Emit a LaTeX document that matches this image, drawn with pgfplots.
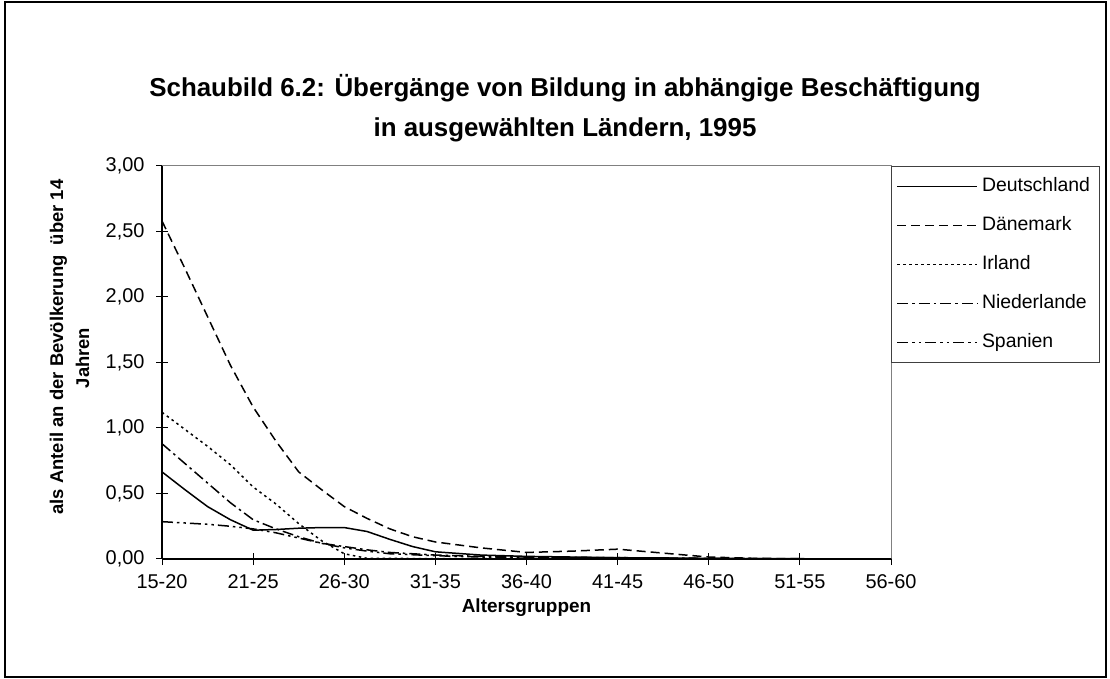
\documentclass[border=0pt]{standalone}
\usepackage{pgfplots}
\pgfplotsset{compat=1.18}
\usepackage{fontspec}
\setmainfont{Liberation Sans}

\pgfplotstableread{
x y
0 0.665
0.25 0.53
0.5 0.40
0.75 0.30
1 0.22
1.25 0.225
1.5 0.235
1.75 0.24
2 0.24
2.25 0.21
2.5 0.15
2.75 0.095
3 0.055
3.5 0.03
4 0.02
4.5 0.015
5 0.01
5.5 0.008
6 0.005
7 0.002
8 0.0
}\deutschland

\pgfplotstableread{
x y
0 2.58
0.25 2.22
0.5 1.85
0.75 1.48
1 1.16
1.25 0.90
1.5 0.665
1.75 0.53
2 0.40
2.25 0.31
2.5 0.23
2.75 0.17
3 0.13
3.5 0.085
4 0.05
4.5 0.06
5 0.075
5.5 0.045
6 0.015
6.5 0.005
7 0.002
8 0.0
}\daenemark

\pgfplotstableread{
x y
0 1.12
0.25 0.99
0.5 0.86
0.75 0.72
1 0.55
1.25 0.42
1.5 0.27
1.75 0.14
2 0.04
2.25 0.005
3 0.003
4 0.002
5 0.001
6 0.0
7 0.0
8 0.0
}\irland

\pgfplotstableread{
x y
0 0.88
0.25 0.73
0.5 0.58
0.75 0.43
1 0.30
1.25 0.23
1.5 0.17
1.75 0.12
2 0.095
2.25 0.07
2.5 0.05
3 0.03
3.5 0.02
4 0.015
5 0.01
6 0.005
7 0.0
8 0.0
}\niederlande

\pgfplotstableread{
x y
0 0.285
0.25 0.275
0.5 0.265
0.75 0.25
1 0.23
1.25 0.20
1.5 0.16
1.75 0.12
2 0.085
2.25 0.06
2.5 0.04
3 0.025
3.5 0.015
4 0.01
5 0.005
6 0.0
7 0.0
8 0.0
}\spanien

\begin{document}
\begin{tikzpicture}
\path[use as bounding box] (0bp,0bp) rectangle (1110bp,679bp);
\draw[line width=2.5bp] (5bp,2bp) rectangle (1106bp,677bp);
\node[font=\bfseries\fontsize{26}{30}\selectfont, anchor=base] at (565bp,582bp) {Schaubild 6.2: Übergänge von Bildung in abhängige Beschäftigung};
\node[font=\bfseries\fontsize{26}{30}\selectfont, anchor=base] at (565bp,542bp) {in ausgewählten Ländern, 1995};
\node[font=\bfseries\fontsize{18.5}{22}\selectfont, anchor=base, rotate=90] at (63bp,332bp) {als Anteil an der Bevölkerung\ \ über 14};
\node[font=\bfseries\fontsize{18.5}{22}\selectfont, anchor=base, rotate=90] at (89bp,321bp) {Jahren};
\begin{axis}[
  at={(162bp,120bp)}, anchor=south west,
  scale only axis, width=729bp, height=393bp,
  xmin=0, xmax=8, ymin=0, ymax=3,
  axis lines*=left,
  axis line style={line width=1.6bp, black},
  xtick={0,1,2,3,4,5,6,7,8},
  xticklabels={15-20,21-25,26-30,31-35,36-40,41-45,46-50,51-55,56-60},
  ytick={0,0.5,1,1.5,2,2.5,3},
  yticklabel style={xshift=-8bp, /pgf/number format/.cd, fixed, fixed zerofill, precision=2, use comma, assume math mode=true},
  xticklabel style={yshift=-6bp},
  tick align=center, major tick length=12bp,
  tick style={line width=1bp, black},
  ticklabel style={font=\fontsize{20}{23}\selectfont},
  xlabel={\bfseries Altersgruppen},
  xlabel style={font=\fontsize{19}{22}\selectfont, yshift=-3bp},
  clip=false,
  legend style={at={(1,1)}, anchor=north west, draw=black!75, line width=1bp,
    font=\fontsize{19.5}{22}\selectfont, inner xsep=5bp, inner ysep=11bp, row sep=21bp,
    nodes={text height=14bp, text depth=4bp, inner ysep=0bp, inner xsep=4bp}},
  legend cell align=left,
  legend image code/.code={\draw[#1] (0bp,0bp) -- (80bp,0bp);},
  every axis plot/.append style={line width=1.5bp, black},
]
\draw[gray, line width=1bp] (rel axis cs:0,1) -- (rel axis cs:1,1) -- (rel axis cs:1,0);
\addplot[solid] table[x=x,y=y] {\deutschland};
\addlegendentry{Deutschland}
\addplot[dash pattern=on 9bp off 5bp] table[x=x,y=y] {\daenemark};
\addlegendentry{Dänemark}
\addplot[dash pattern=on 2.5bp off 3.5bp] table[x=x,y=y] {\irland};
\addlegendentry{Irland}
\addplot[dash pattern=on 11bp off 4bp on 2.5bp off 4bp] table[x=x,y=y] {\niederlande};
\addlegendentry{Niederlande}
\addplot[dash pattern=on 11bp off 4bp on 2.5bp off 4bp on 2.5bp off 4bp] table[x=x,y=y] {\spanien};
\addlegendentry{Spanien}
\end{axis}
\end{tikzpicture}
\end{document}
